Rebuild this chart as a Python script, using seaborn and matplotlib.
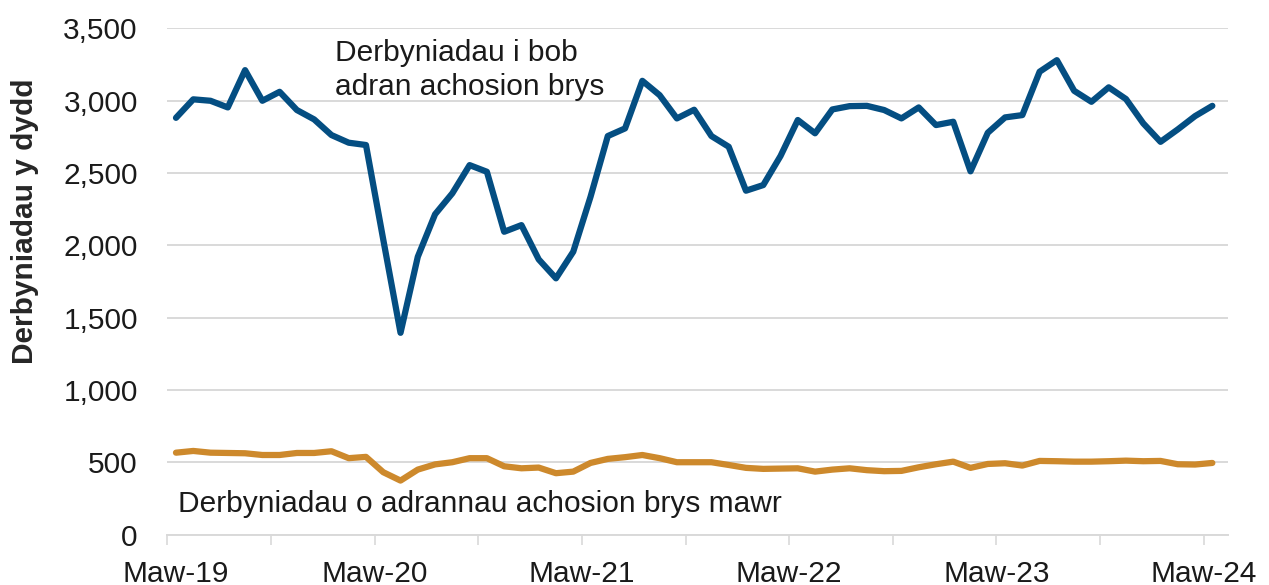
import matplotlib
matplotlib.use("Agg")
import matplotlib.pyplot as plt
from matplotlib.transforms import ScaledTranslation
import numpy as np
import pandas as pd
import seaborn as sns

# monthly daily-average admissions, Mar 2019 - Mar 2024
all_ed = [2882, 3010, 3000, 2954, 3212, 3000, 3062, 2936, 2871, 2763, 2710, 2694,
          2040, 1395, 1921, 2215, 2360, 2555, 2509, 2094, 2140, 1903, 1772, 1956,
          2336, 2756, 2809, 3138, 3039, 2878, 2938, 2756, 2682, 2378, 2417, 2618,
          2867, 2775, 2940, 2963, 2965, 2936, 2878, 2954, 2832, 2855, 2512, 2779,
          2885, 2901, 3201, 3281, 3069, 2993, 3093, 3012, 2844, 2716, 2802, 2894,
          2965]
major_ed = [566, 578, 566, 564, 562, 550, 550, 564, 564, 576, 528, 537,
            431, 373, 449, 485, 500, 528, 528, 472, 458, 463, 424, 435,
            495, 523, 535, 550, 528, 500, 500, 500, 481, 461, 454, 456,
            458, 435, 449, 458, 445, 438, 440, 465, 486, 504, 461, 488,
            493, 477, 509, 507, 504, 504, 507, 511, 507, 509, 486, 484,
            495]
tick_labels = ["Maw-19", "Maw-20", "Maw-21", "Maw-22", "Maw-23", "Maw-24"]

label_all = "Derbyniadau i bob\nadran achosion brys"
label_major = "Derbyniadau o adrannau achosion brys mawr"
y_title = "Derbyniadau y dydd"

BLUE = "#044e82"
ORANGE = "#cd892c"
GRID = "#d9d9d9"
FS = 21.5

n = len(all_ed)
df = pd.DataFrame({
    "month": np.tile(np.arange(n), 2),
    "value": all_ed + major_ed,
    "series": ["all"] * n + ["major"] * n,
})

sns.set_theme(style="white")
plt.rcParams["font.family"] = ["Liberation Sans", "DejaVu Sans"]

fig = plt.figure(figsize=(12.69, 5.85), dpi=100)
ax = fig.add_axes([0.1316, 0.0863, 0.836, 0.865])

sns.lineplot(data=df, x="month", y="value", hue="series",
             palette={"all": BLUE, "major": ORANGE}, linewidth=4.5,
             legend=False, ax=ax, zorder=3)
for line in ax.get_lines():
    line.set_solid_capstyle("round")
    line.set_solid_joinstyle("round")

ax.set_ylim(0, 3500)
ax.set_yticks(np.arange(0, 3501, 500))
ax.set_yticklabels([f"{v:,}" for v in range(0, 3501, 500)], fontsize=FS, color="#1a1a1a")
ax.yaxis.grid(True, color=GRID, linewidth=1.4)
ax.tick_params(axis="y", length=0, pad=21)

ax.set_xlim(-0.52, 60.9)
ax.set_xticks(np.arange(0, 61, 12) - 0.5)
ax.set_xticks(np.arange(6, 61, 12) - 0.5, minor=True)
ax.set_xticklabels(tick_labels, fontsize=FS, color="#1a1a1a")
ax.tick_params(axis="x", which="both", direction="out", length=7, width=1.2,
               color=GRID, pad=11, bottom=True)

for s in ["top", "right", "left"]:
    ax.spines[s].set_visible(False)
ax.spines["bottom"].set_color(GRID)
ax.spines["bottom"].set_linewidth(1.4)

ax.set_xlabel("")
ax.set_ylabel(y_title, fontsize=FS, fontweight="bold")
ax.yaxis.set_label_coords(-0.121, 0.62)

# first x label nudged right as in the source chart
first = ax.get_xticklabels()[0]
first.set_transform(first.get_transform() + ScaledTranslation(0.08, 0, fig.dpi_scale_trans))

ax.text(9.2, 3430, label_all, fontsize=FS, va="top", ha="left",
        linespacing=1.3, color="#1a1a1a")
ax.text(0.1, 310, label_major, fontsize=FS, va="top", ha="left", color="#1a1a1a")

fig.savefig("out.png", dpi=100)
